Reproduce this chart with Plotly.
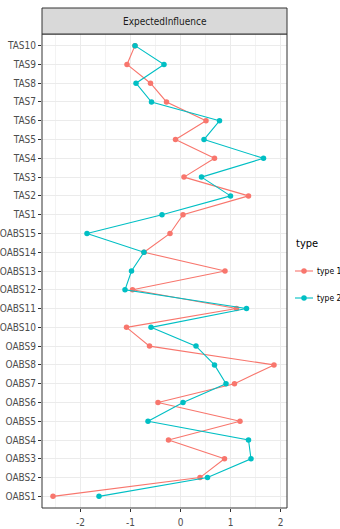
import plotly.graph_objects as go

categories = ["OABS1", "OABS2", "OABS3", "OABS4", "OABS5", "OABS6", "OABS7", "OABS8",
              "OABS9", "OABS10", "OABS11", "OABS12", "OABS13", "OABS14", "OABS15",
              "TAS1", "TAS2", "TAS3", "TAS4", "TAS5", "TAS6", "TAS7", "TAS8", "TAS9", "TAS10"]
type1 = [-2.55, 0.39, 0.88, -0.24, 1.19, -0.45, 1.08, 1.87, -0.62, -1.08, 1.12, -0.96, 0.89,
         -0.73, -0.21, 0.05, 1.36, 0.07, 0.68, -0.10, 0.51, -0.28, -0.60, -1.07, -0.91]
type2 = [-1.63, 0.54, 1.41, 1.36, -0.65, 0.05, 0.91, 0.68, 0.31, -0.59, 1.32, -1.11, -0.98,
         -0.73, -1.87, -0.37, 1.00, 0.42, 1.66, 0.47, 0.78, -0.58, -0.89, -0.33, -0.91]
series_names = ["type 1", "type 2"]
series_colors = ["#F8766D", "#00BFC4"]
x_ticks = [-2, -1, 0, 1, 2]

FONT = "DejaVu Sans Condensed, Liberation Sans Narrow, Liberation Sans, sans-serif"

W, H = 340, 529
ML, MR, MT, MB = 42, 53, 34, 21
PW, PH = W - ML - MR, H - MT - MB


def px2paper(px, py):
    return (px - ML) / PW, (H - MB - py) / PH


fig = go.Figure()
for name, vals, col in zip(series_names, [type1, type2], series_colors):
    fig.add_trace(go.Scatter(x=vals, y=categories, mode="lines+markers", name=name,
                             showlegend=False,
                             line=dict(color=col, width=1.1),
                             marker=dict(color=col, size=5.5)))

fig.update_layout(
    width=W, height=H,
    margin=dict(l=ML, r=MR, t=MT, b=MB, autoexpand=False),
    paper_bgcolor="white", plot_bgcolor="white",
    font=dict(family=FONT, size=10, color="#4D4D4D"),
    showlegend=False,
    xaxis=dict(range=[-2.77, 2.13], tickvals=x_ticks, ticktext=[str(v) for v in x_ticks],
               showgrid=True, gridcolor="#EBEBEB", gridwidth=1,
               minor=dict(dtick=0.5, tick0=-2.5, showgrid=True, gridcolor="#F3F3F3", gridwidth=0.6),
               zeroline=False, ticks="outside", ticklen=3, tickcolor="#333333",
               ticklabelstandoff=2, automargin=False,
               tickfont=dict(size=10, color="#4D4D4D"), showline=False),
    yaxis=dict(type="category", categoryorder="array", categoryarray=categories,
               range=[-0.62, 24.62], showgrid=True, gridcolor="#EBEBEB", gridwidth=1,
               zeroline=False, ticks="outside", ticklen=3, tickcolor="#333333",
               automargin=False,
               tickfont=dict(size=10, color="#4D4D4D"), showline=False),
)

# panel border
fig.add_shape(type="rect", xref="paper", yref="paper", x0=0, x1=1, y0=0, y1=1,
              line=dict(color="#333333", width=1), fillcolor="rgba(0,0,0,0)", layer="above")
# strip
strip_h = 26 / PH
fig.add_shape(type="rect", xref="paper", yref="paper", x0=0, x1=1, y0=1, y1=1 + strip_h,
              line=dict(color="#333333", width=1), fillcolor="#D9D9D9")
fig.add_annotation(text="ExpectedInfluence", xref="paper", yref="paper", x=0.5, y=1 + strip_h / 2,
                   showarrow=False, font=dict(size=10, color="#1A1A1A"), xanchor="center", yanchor="middle")

# legend (drawn manually to match ggplot key size)
tx, ty = px2paper(294, 243)
fig.add_annotation(text="type", xref="paper", yref="paper", x=tx, y=ty, showarrow=False,
                   xanchor="left", yanchor="middle", font=dict(size=11, color="black"))
for i, (name, col) in enumerate(zip(series_names, series_colors)):
    ky = 271 + i * 27
    x0, yk = px2paper(295, ky)
    x1, _ = px2paper(313, ky)
    xc, _ = px2paper(304, ky)
    fig.add_shape(type="line", xref="paper", yref="paper", x0=x0, x1=x1, y0=yk, y1=yk,
                  line=dict(color=col, width=1.1))
    fig.add_shape(type="circle", xref="paper", yref="paper", xsizemode="pixel", ysizemode="pixel",
                  xanchor=xc, yanchor=yk, x0=-2.75, x1=2.75, y0=-2.75, y1=2.75,
                  line=dict(color=col, width=0), fillcolor=col)
    lx, _ = px2paper(315, ky)
    fig.add_annotation(text=name, xref="paper", yref="paper", x=lx, y=yk, showarrow=False,
                       xanchor="left", yanchor="middle", font=dict(size=8.5, color="black"))

fig.write_html("out.html", config={"displayModeBar": False},
               post_script="document.body.style.margin='0';document.body.style.padding='0';")
